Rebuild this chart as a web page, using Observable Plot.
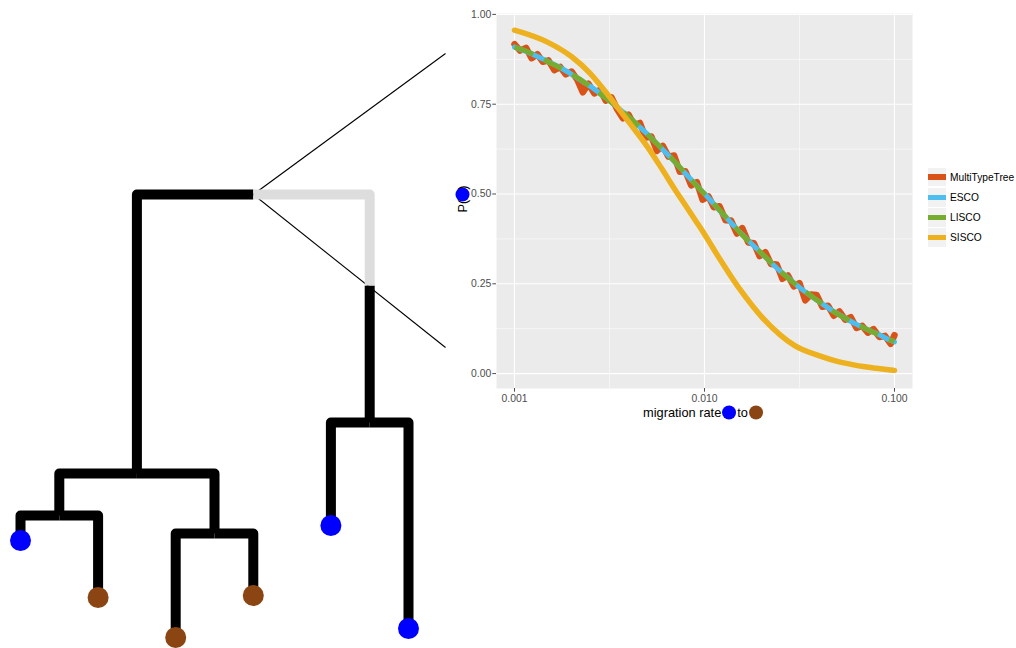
<!DOCTYPE html>
<html><head><meta charset="utf-8">
<script src="https://cdn.jsdelivr.net/npm/d3@7"></script>
<script src="https://cdn.jsdelivr.net/npm/@observablehq/plot@0.6"></script>
<style>
body{margin:0;background:#fff;font-family:"Liberation Sans",Arial,Helvetica,sans-serif;}
#wrap{position:relative;width:1016px;height:648px;overflow:hidden;background:#fff;}
#wrap svg{position:absolute;left:0;top:0;}
.dot{display:inline-block;width:14px;height:14px;border-radius:50%;}
#xtitle{position:absolute;left:703px;top:412px;transform:translate(-50%,-50%);display:flex;align-items:center;gap:1px;font-size:12.8px;color:#000;white-space:nowrap;}
#ytitle{position:absolute;left:462px;top:199px;transform:translate(-50%,-50%) rotate(-90deg);display:flex;align-items:center;font-size:12.8px;color:#000;white-space:nowrap;}
#legend{position:absolute;left:928px;top:167px;font-size:10.2px;color:#000;}
.lrow{display:flex;align-items:center;height:20.2px;}
.lkey{width:18px;height:18.5px;background:#F2F2F2;display:flex;align-items:center;}
.lbar{width:18px;height:5.5px;}
.llab{margin-left:4px;}
</style></head><body>
<div id="wrap"></div>
<script>
// ---------------- tree data ----------------
const treeNodes   = ["root","A","B","C","D","L0","L1","L2","L3","L4","L5"];
const treeParents = [null,"root","A","A","root","B","B","C","C","D","D"];
const treeTimes   = [0, 2.79, 3.21, 3.39, 2.28, 3.46, 4.03, 4.43, 4.01, 3.31, 4.34];
const tipOrder    = {L0:0, L1:1, L2:2, L3:3, L4:4, L5:5};
const tipStates   = {L0:"blue", L1:"brown", L2:"brown", L3:"brown", L4:"blue", L5:"blue"};
const stateColors = {blue:"#0000FF", brown:"#8B4513"};
const greyBranch  = {node:"D", until:0.91};          // part of branch with unknown state
const zoomTargets = [{x:5.477, t:-1.41}, {x:5.477, t:1.53}];

// ---------------- chart data ----------------
const seriesNames  = ["MultiTypeTree","ESCO","LISCO","SISCO"];
const seriesColors = ["#D95319","#4DBEEE","#77AC30","#EDB120"];
const xTicks = [0.001, 0.01, 0.1];
const xTickLabels = ["0.001","0.010","0.100"];
const xMinor = [0.00316, 0.0316];
const yTicks = [0, 0.25, 0.5, 0.75, 1];
const yMinor = [0.125, 0.375, 0.625, 0.875];

const mttRate = [0.00100,0.00107,0.00115,0.00123,0.00132,0.00141,0.00151,0.00162,0.00174,0.00186,
  0.00200,0.00214,0.00229,0.00245,0.00263,0.00282,0.00302,0.00324,0.00347,0.00372,
  0.00398,0.00427,0.00457,0.00490,0.00525,0.00562,0.00603,0.00646,0.00692,0.00741,
  0.00794,0.00851,0.00912,0.00977,0.0105,0.0112,0.0120,0.0129,0.0138,0.0148,
  0.0158,0.0170,0.0182,0.0195,0.0209,0.0224,0.0240,0.0257,0.0275,0.0295,
  0.0316,0.0339,0.0363,0.0389,0.0417,0.0447,0.0479,0.0513,0.0550,0.0589,
  0.0631,0.0676,0.0724,0.0776,0.0832,0.0891,0.0955,0.100];
const mttProb = [0.917,0.899,0.907,0.878,0.889,0.868,0.872,0.845,0.854,0.833,
  0.841,0.818,0.783,0.807,0.780,0.790,0.760,0.769,0.736,0.711,
  0.721,0.691,0.698,0.657,0.660,0.620,0.634,0.604,0.607,0.562,
  0.563,0.524,0.533,0.484,0.493,0.463,0.466,0.427,0.426,0.390,
  0.405,0.365,0.363,0.327,0.338,0.305,0.304,0.264,0.273,0.243,
  0.252,0.204,0.220,0.219,0.186,0.189,0.161,0.173,0.150,0.157,
  0.127,0.133,0.114,0.124,0.102,0.105,0.083,0.107];

const escoRate = [0.00100,0.00115,0.00132,0.00151,0.00174,0.00200,0.00229,0.00263,0.00302,0.00347,
  0.00398,0.00457,0.00525,0.00603,0.00692,0.00794,0.00912,0.0105,0.0120,0.0138,
  0.0158,0.0182,0.0209,0.0240,0.0275,0.0316,0.0363,0.0417,0.0479,0.0550,
  0.0631,0.0724,0.0832,0.0955,0.100];
const escoProb = [0.909,0.897,0.883,0.868,0.852,0.833,0.813,0.792,0.768,0.742,
  0.715,0.686,0.656,0.624,0.591,0.557,0.523,0.489,0.454,0.420,
  0.387,0.355,0.324,0.294,0.267,0.240,0.216,0.194,0.173,0.154,
  0.137,0.122,0.108,0.092,0.088];
const liscoProb = [0.908,0.898,0.883,0.867,0.851,0.833,0.814,0.791,0.767,0.742,
  0.716,0.686,0.655,0.624,0.592,0.557,0.522,0.489,0.455,0.421,
  0.386,0.355,0.325,0.294,0.266,0.240,0.217,0.194,0.172,0.154,
  0.138,0.122,0.107,0.093,0.090];

const siscoRate = [0.001,0.0015,0.002,0.0025,0.003,0.0035,0.004,0.005,0.006,0.007,
  0.008,0.009,0.010,0.012,0.015,0.018,0.020,0.025,0.030,0.040,
  0.050,0.060,0.070,0.080,0.100];
const siscoProb = [0.956,0.922,0.882,0.836,0.786,0.740,0.700,0.632,0.568,0.512,
  0.466,0.425,0.388,0.320,0.242,0.187,0.158,0.108,0.077,0.050,
  0.034,0.025,0.019,0.015,0.009];

// ---------------- build tree geometry ----------------
const nodes = new Map(treeNodes.map((id,i)=>[id,{id, parent:treeParents[i], t:treeTimes[i], children:[]}]));
for (const n of nodes.values()) if (n.parent) nodes.get(n.parent).children.push(n);
function setX(n){ if (!n.children.length) { n.x = tipOrder[n.id]; return n.x; }
  const xs = n.children.map(setX); n.x = d3.mean(xs); return n.x; }
setX(nodes.get("root"));
const blackPts = [], greyPts = [];
for (const n of nodes.values()) {
  if (!n.parent) continue;
  const p = nodes.get(n.parent);
  if (greyBranch.node === n.id) {
    greyPts.push({e:n.id, x:p.x, t:p.t},{e:n.id, x:n.x, t:p.t},{e:n.id, x:n.x, t:greyBranch.until});
    blackPts.push({e:n.id, x:n.x, t:greyBranch.until},{e:n.id, x:n.x, t:n.t});
  } else {
    blackPts.push({e:n.id, x:p.x, t:p.t},{e:n.id, x:n.x, t:p.t},{e:n.id, x:n.x, t:n.t});
  }
}
const tips = [...nodes.values()].filter(n=>!n.children.length).map(n=>({x:n.x, t:n.t, state:tipStates[n.id]}));
const root = nodes.get("root");
const links = zoomTargets.map(z=>({x1:root.x, t1:root.t, x2:z.x, t2:z.t}));

const tree = Plot.plot({
  width:1016, height:648,
  marginLeft:20, marginRight:608, marginTop:194, marginBottom:11,
  x:{domain:[0,5], axis:null},
  y:{domain:[0,4.43], reverse:true, axis:null},
  style:{background:"transparent", overflow:"visible"},
  marks:[
    Plot.link(links,{x1:"x1",y1:"t1",x2:"x2",y2:"t2",stroke:"#000",strokeWidth:1.1}),
    Plot.line(blackPts,{x:"x",y:"t",z:"e",stroke:"#000",strokeWidth:10,strokeLinejoin:"round",strokeLinecap:"butt"}),
    Plot.line(greyPts,{x:"x",y:"t",z:"e",stroke:"#DDDDDD",strokeWidth:10,strokeLinejoin:"round",strokeLinecap:"butt"}),
    Plot.dot(tips,{x:"x",y:"t",r:10.5,fill:d=>stateColors[d.state],stroke:null})
  ]
});

// ---------------- chart ----------------
const mtt = mttRate.map((m,i)=>({m, p:mttProb[i]}));
const esco = escoRate.map((m,i)=>({m, p:escoProb[i]}));
const lisco = escoRate.map((m,i)=>({m, p:liscoProb[i]}));
const sisco = siscoRate.map((m,i)=>({m, p:siscoProb[i]}));
const xLabel = d => { const i = xTicks.findIndex(v => Math.abs(Math.log10(v) - Math.log10(d)) < 1e-6); return i < 0 ? "" : xTickLabels[i]; };

const chart = Plot.plot({
  width:1016, height:648,
  marginLeft:496, marginRight:104, marginTop:13, marginBottom:260,
  insetLeft:18, insetRight:18,
  x:{type:"log", domain:[0.001,0.1]},
  y:{domain:[-0.0415,1.0025]},
  style:{background:"transparent", overflow:"visible", fontFamily:"'Liberation Sans', Arial, Helvetica, sans-serif", fontSize:"10.4px"},
  marks:[
    Plot.frame({fill:"#EBEBEB", stroke:"none"}),
    Plot.ruleX(xMinor,{stroke:"#fff",strokeWidth:0.55}),
    Plot.ruleY(yMinor,{stroke:"#fff",strokeWidth:0.55}),
    Plot.ruleX(xTicks,{stroke:"#fff",strokeWidth:1.1}),
    Plot.ruleY(yTicks,{stroke:"#fff",strokeWidth:1.1}),
    Plot.axisX(xTicks,{tickFormat:xLabel, tickSize:3.7, tickPadding:2.2, color:"#4D4D4D", label:null}),
    Plot.axisY(yTicks,{tickFormat:d3.format(".2f"), tickSize:3.7, tickPadding:1.5, color:"#4D4D4D", label:null}),
    Plot.line(mtt,{x:"m",y:"p",stroke:seriesColors[0],strokeWidth:6.5,strokeLinejoin:"round"}),
    Plot.line(esco,{x:"m",y:"p",stroke:seriesColors[1],strokeWidth:5,curve:"monotone-x"}),
    Plot.line(lisco,{x:"m",y:"p",stroke:seriesColors[2],strokeWidth:5,curve:"monotone-x",strokeDasharray:"20,12",strokeLinecap:"butt"}),
    Plot.line(sisco,{x:"m",y:"p",stroke:seriesColors[3],strokeWidth:5.5,curve:"monotone-x"})
  ]
});

const wrap = document.getElementById("wrap");
wrap.append(tree, chart);

// axis titles
const xt = document.createElement("div"); xt.id="xtitle";
xt.innerHTML = `<span>migration rate</span><span class="dot" style="background:${stateColors.blue}"></span><span>to</span><span class="dot" style="background:${stateColors.brown}"></span>`;
wrap.append(xt);
const yt = document.createElement("div"); yt.id="ytitle";
yt.innerHTML = `<span>P(</span><span class="dot" style="background:${stateColors.blue};margin:0 -2px"></span><span>)</span>`;
wrap.append(yt);

// legend
const lg = document.createElement("div"); lg.id="legend";
lg.innerHTML = seriesNames.map((s,i)=>`<div class="lrow"><div class="lkey"><div class="lbar" style="background:${seriesColors[i]}"></div></div><span class="llab">${s}</span></div>`).join("");
wrap.append(lg);
</script>
</body></html>
